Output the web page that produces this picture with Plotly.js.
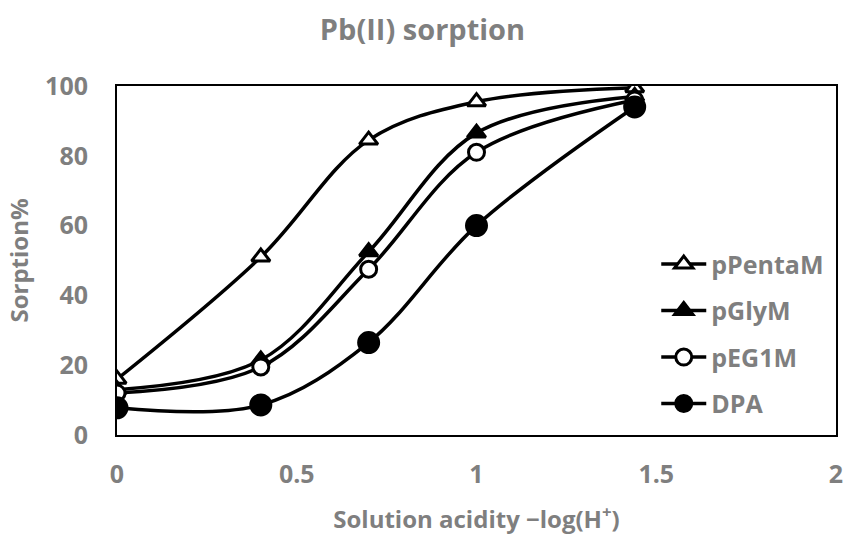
<!DOCTYPE html>
<html>
<head>
<meta charset="utf-8">
<script src="https://cdn.plot.ly/plotly-3.0.1.min.js"></script>
<style>html,body{margin:0;padding:0;background:#fff;}#chart{width:845px;height:540px;}</style>
</head>
<body>
<div id="chart"></div>
<script>
const xValues = [0, 0.4, 0.7, 1.0, 1.44];
const pPentaM = [16, 51, 84.5, 95.5, 99.5];
const pGlyM = [13, 21.5, 52.5, 86.5, 97];
const pEG1M = [12, 19.5, 47.5, 81, 96];
const DPA = [7.8, 8.6, 26.5, 60, 94];
const seriesNames = ['pPentaM', 'pGlyM', 'pEG1M', 'DPA'];
const xTicks = [0, 0.5, 1, 1.5, 2];
const yTicks = [0, 20, 40, 60, 80, 100];

const grey = '#7f7f7f';
const fontFam = '"Open Sans", "Noto Sans", sans-serif';

function mk(name, y, filled, symbol, size) {
  return {
    x: xValues, y: y, name: name, legendgroup: name, type: 'scatter', mode: 'lines+markers',
    line: {color: '#000', width: 3.5, shape: 'spline', smoothing: 1},
    marker: {symbol: symbol, size: size, color: filled ? '#000' : '#fff',
             line: {color: '#000', width: 3}}
  };
}
const traces = [
  mk(seriesNames[0], pPentaM, false, 'triangle-up', 16),
  mk(seriesNames[1], pGlyM, true, 'triangle-up', 16),
  mk(seriesNames[2], pEG1M, false, 'circle', 16),
  mk(seriesNames[3], DPA, true, 'circle', 20)
];

const layout = {
  width: 845, height: 540,
  paper_bgcolor: '#fff', plot_bgcolor: '#fff',
  margin: {l: 117, r: 9, t: 86, b: 105},
  title: {text: 'Pb(II) sorption', x: 0.5, xanchor: 'center', y: 0.945, yanchor: 'middle',
          font: {family: fontFam, size: 29, color: grey, weight: 'bold'}},
  xaxis: {
    range: [0, 2], tickvals: xTicks, ticktext: xTicks.map(String),
    showgrid: false, zeroline: false, showline: true, mirror: true,
    linecolor: '#000', linewidth: 2, ticks: '', ticklabelstandoff: 16,
    tickfont: {family: fontFam, size: 25, color: grey, weight: 'bold'},
    title: {text: 'Solution acidity \u2212log(H<sup>+</sup>)', standoff: 22,
            font: {family: fontFam, size: 24, color: grey, weight: 'bold'}}
  },
  yaxis: {
    range: [0, 100], tickvals: yTicks, ticktext: yTicks.map(String),
    showgrid: false, zeroline: false, showline: true, mirror: true,
    linecolor: '#000', linewidth: 2, ticks: '', ticklabelstandoff: 22,
    tickfont: {family: fontFam, size: 25, color: grey, weight: 'bold'},
    title: {text: 'Sorption%', standoff: 10,
            font: {family: fontFam, size: 24, color: grey, weight: 'bold'}}
  },
  legend: {x: 0.75, y: 0.555, xanchor: 'left', yanchor: 'top', bgcolor: 'rgba(0,0,0,0)',
           itemwidth: 45, tracegroupgap: 11, traceorder: 'grouped',
           font: {family: fontFam, size: 25, color: grey, weight: 'bold'}},
  showlegend: true
};
Plotly.newPlot('chart', traces, layout, {displayModeBar: false, staticPlot: true});
</script>
</body>
</html>
